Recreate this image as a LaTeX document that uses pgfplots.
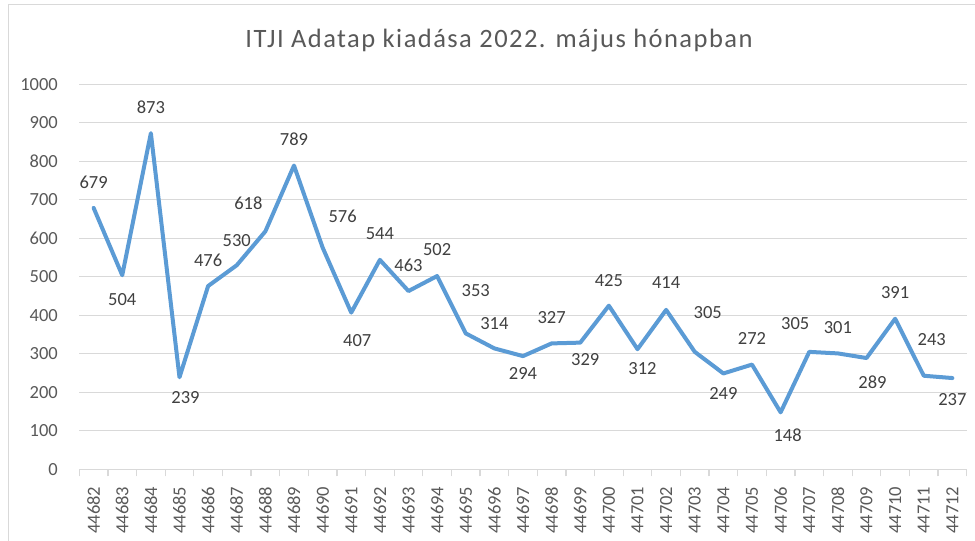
\documentclass[border=0pt]{standalone}
\usepackage{pgfplots}
\pgfplotsset{compat=1.18}
\usepackage{pgfplotstable}
\usepackage{fontspec}
\setmainfont{Carlito}
\newfontfamily\titlefont[LetterSpace=5.5]{Carlito}
\definecolor{linec}{HTML}{5B9BD5}
\definecolor{gridc}{HTML}{D9D9D9}
\definecolor{tickc}{HTML}{595959}
\definecolor{labc}{HTML}{404040}
\pgfplotstableread{
x y dx dy
0 679 0 -26
1 504 0 24
2 873 0 -26
3 239 6 20
4 476 0 -26
5 530 0 -25
6 618 -17 -28
7 789 0 -26
8 576 20 -31
9 407 6 28
10 544 0 -26
11 463 0 -26
12 502 0 -26
13 353 10 -43
14 314 0 -25
15 294 0 17
16 327 0 -26
17 329 5 17
18 425 0 -25
19 312 5 19
20 414 0 -27
21 305 13 -39
22 249 0 20
23 272 0 -26
24 148 7 23
25 305 -14 -28
26 301 0 -26
27 289 6 24
28 391 0 -26
29 243 8 -36
30 237 0 22
}\datatable
\begin{document}
\begin{tikzpicture}
\path[use as bounding box] (0,0) rectangle (975pt,541pt);
\fill[white] (0,0) rectangle (975pt,541pt);
\draw[gridc, line width=1pt] (8pt,0) -- (8pt,536pt) -- (975pt,536pt);
\node[anchor=base, text=tickc, inner sep=0pt] at (499pt,493.7pt) {\titlefont\fontsize{26.5}{30}\selectfont ITJI Adatap kiadása 2022. május hónapban};
\begin{axis}[
  at={(79.3pt,71.7pt)}, anchor=south west,
  scale only axis, width=887.4pt, height=385pt,
  xmin=-0.5, xmax=30.5, ymin=0, ymax=1000,
  /pgf/number format/assume math mode=true,
  /pgf/number format/1000 sep={},
  separate axis lines,
  axis x line*=bottom,
  axis y line*=left,
  y axis line style={draw=none},
  x axis line style={gridc, line width=1.2pt},
  xtick={0,...,30},
  xticklabels={44682,44683,44684,44685,44686,44687,44688,44689,44690,44691,44692,44693,44694,44695,44696,44697,44698,44699,44700,44701,44702,44703,44704,44705,44706,44707,44708,44709,44710,44711,44712},
  major x tick style={draw=none},
  minor xtick={-0.5,0.5,...,30.5},
  minor tick length=7pt,
  tick align=outside,
  minor x tick style={gridc, line width=1.2pt},
  ytick={0,100,...,1000},
  major y tick style={draw=none},
  ymajorgrids,
  grid style={gridc, line width=1.2pt},
  xticklabel style={yshift=-13pt, rotate=90, anchor=east, inner sep=0pt, text=tickc, font=\fontsize{18.5}{20}\selectfont},
  yticklabel style={anchor=east, inner sep=0pt, xshift=-17pt, text=tickc, font=\fontsize{18.5}{20}\selectfont},
  clip=false,
]
\addplot[linec, line width=4pt, line join=round, line cap=round, mark=none,
  nodes near coords,
  visualization depends on={\thisrow{dx} \as \dx},
  visualization depends on={\thisrow{dy} \as \dy},
  every node near coord/.append style={anchor=center, inner sep=0pt, text=labc, font=\fontsize{18.5}{20}\selectfont, xshift=\dx pt, yshift=-\dy pt},
] table[x=x, y=y] {\datatable};
\end{axis}
\end{tikzpicture}
\end{document}
